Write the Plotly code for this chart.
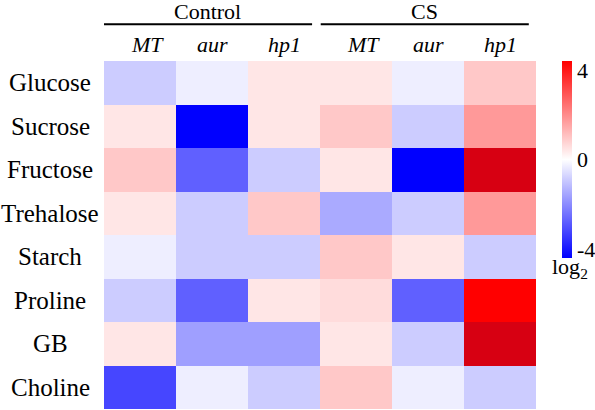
import plotly.graph_objects as go

metabolites = ["Glucose", "Sucrose", "Fructose", "Trehalose", "Starch", "Proline", "GB", "Choline"]
genotypes = ["MT", "aur", "hp1", "MT", "aur", "hp1"]
groups = ["Control", "CS"]

# log2 fold-change values (columns: Control MT, aur, hp1, CS MT, aur, hp1)
glucose = [-0.8, -0.27, 0.4, 0.4, -0.27, 0.87]
sucrose = [0.4, -4.0, 0.4, 0.87, -0.8, 1.6]
fructose = [0.87, -2.5, -0.8, 0.4, -4.0, 4.6]
trehalose = [0.4, -0.8, 0.87, -1.33, -0.8, 1.6]
starch = [-0.27, -0.8, -0.8, 0.87, 0.4, -0.8]
proline = [-0.8, -2.5, 0.4, 0.55, -2.5, 4.0]
gb = [0.4, -1.5, -1.5, 0.4, -0.8, 4.6]
choline = [-2.9, -0.27, -0.8, 0.87, -0.27, -0.8]

z = [glucose, sucrose, fructose, trehalose, starch, proline, gb, choline]
cols = list(range(len(genotypes)))

FONT = "Liberation Serif"
zmin, zmax = -4.0, 4.6
span = zmax - zmin
main_scale = [
    [0.0, "rgb(0,0,255)"],
    [(0 - zmin) / span, "rgb(255,255,255)"],
    [(4 - zmin) / span, "rgb(255,0,0)"],
    [1.0, "rgb(215,0,18)"],
]
bar_scale = [[0.0, "rgb(0,0,255)"], [0.5, "rgb(255,255,255)"], [1.0, "rgb(255,0,0)"]]

fig = go.Figure()
fig.add_trace(go.Heatmap(
    z=z, x=cols, y=metabolites, zmin=zmin, zmax=zmax,
    colorscale=main_scale, showscale=False, hoverinfo="skip",
))
fig.add_trace(go.Scatter(
    x=[0], y=[metabolites[0]], mode="markers", hoverinfo="skip", showlegend=False,
    marker=dict(color=[0], cmin=-4.4, cmax=4.4, colorscale=bar_scale, opacity=0,
                showscale=True,
                colorbar=dict(x=1.060, xanchor="left", xpad=0, y=1.0, yanchor="top", ypad=0,
                              len=0.566, lenmode="fraction", thickness=10, outlinewidth=0,
                              tickvals=[-4, 0, 4], ticktext=["-4", "0", "4"], ticks="",
                              tickfont=dict(family=FONT, size=22, color="black"))),
))

annotations = []
for m in metabolites:
    annotations.append(dict(x=-0.125, xref="paper", y=m, yref="y", text=m, showarrow=False,
                            xanchor="center", yanchor="middle",
                            font=dict(family=FONT, size=25, color="black")))
for i, g in enumerate(genotypes):
    annotations.append(dict(x=cols[i], xref="x", y=1.047, yref="paper", text=f"<i>{g}</i>",
                            showarrow=False, xanchor="center", yanchor="middle",
                            xshift=7 if g == "MT" else 0,
                            font=dict(family=FONT, size=22, color="black")))
group_centers = [0.94, 3.95]
for g, c in zip(groups, group_centers):
    annotations.append(dict(x=c, xref="x", y=1.143, yref="paper", text=g, showarrow=False,
                            xanchor="center", yanchor="middle",
                            font=dict(family=FONT, size=22, color="black")))
annotations.append(dict(x=1.079, xref="paper", y=0.405, yref="paper", text="log<sub>2</sub>",
                        showarrow=False, xanchor="center", yanchor="middle",
                        font=dict(family=FONT, size=22, color="black")))

shapes = [
    dict(type="line", xref="x", yref="paper", x0=-0.51, x1=2.39, y0=1.1055, y1=1.1055,
         line=dict(color="black", width=2)),
    dict(type="line", xref="x", yref="paper", x0=2.51, x1=5.4, y0=1.1055, y1=1.1055,
         line=dict(color="black", width=2)),
]

fig.update_layout(
    width=595, height=410,
    margin=dict(l=104, r=59, t=61, b=1, autoexpand=False),
    paper_bgcolor="white", plot_bgcolor="white",
    font=dict(family=FONT, color="black"),
    annotations=annotations, shapes=shapes,
    xaxis=dict(showticklabels=False, showgrid=False, zeroline=False, range=[-0.5, 5.5], fixedrange=True),
    yaxis=dict(showticklabels=False, showgrid=False, zeroline=False, autorange="reversed", fixedrange=True),
)

fig.write_html("out.html", config={"displayModeBar": False},
               post_script="document.body.style.margin='0';document.body.style.overflow='hidden';")
